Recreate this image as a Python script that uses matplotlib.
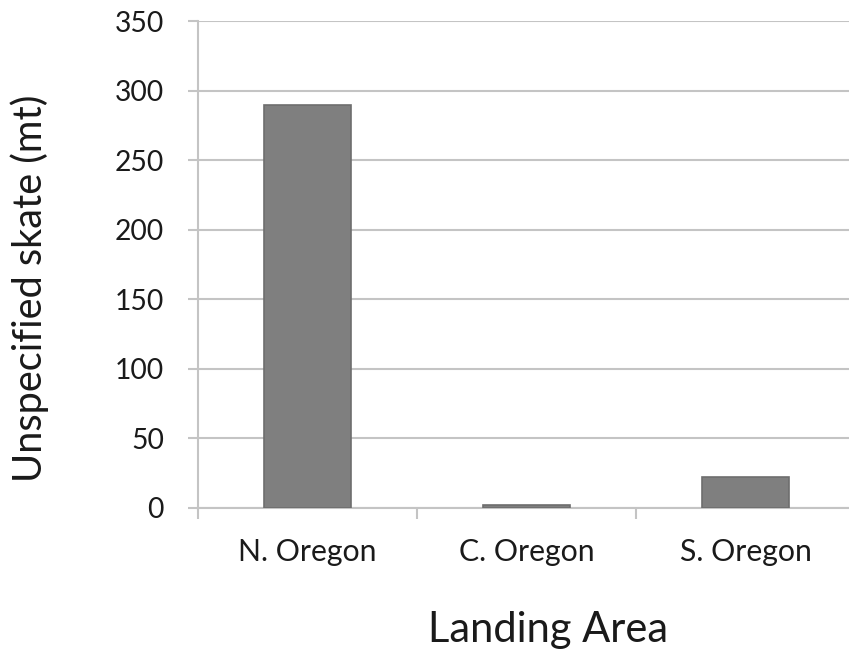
import matplotlib
matplotlib.use("Agg")
import matplotlib.pyplot as plt

categories = ["N. Oregon", "C. Oregon", "S. Oregon"]
values = [290, 2, 22]
yticks = [0, 50, 100, 150, 200, 250, 300, 350]

plt.rcParams['font.family'] = ['Lato', 'DejaVu Sans']

fig = plt.figure(figsize=(8.49, 6.54), dpi=100)
ax = fig.add_axes([198/849, 146.5/654, 657/849, (507.5-21.4)/654])

x = list(range(len(categories)))
ax.bar(x, values, width=0.4, color="#7f7f7f", edgecolor="#6e6e6e", linewidth=1.2, zorder=3)

ax.set_xlim(-0.5, len(categories) - 0.5)
ax.set_ylim(0, 350)
ax.set_yticks(yticks)
ax.set_yticklabels([str(t) for t in yticks], fontsize=20.3, color="#1a1a1a")
ax.yaxis.grid(True, color="#c4c4c4", linewidth=1.5, zorder=0)
ax.set_axisbelow(True)

ax.set_xticks(x)
ax.set_xticklabels(categories, fontsize=21.8, color="#1a1a1a")
ax.tick_params(axis='x', length=0, pad=22)
ax.set_xticks([-0.5, 0.5, 1.5, 2.5], minor=True)
ax.tick_params(axis='x', which='minor', length=8, width=1.5, color="#c4c4c4")
ax.tick_params(axis='y', length=7.5, width=1.5, color="#c4c4c4", pad=17)

for s in ["top", "right"]:
    ax.spines[s].set_visible(False)
ax.spines["left"].set_color("#c4c4c4")
ax.spines["left"].set_linewidth(1.5)
ax.spines["bottom"].set_color("#c4c4c4")
ax.spines["bottom"].set_linewidth(1.5)

fig.text(30/849, (654-288)/654, "Unspecified skate (mt)", rotation=90,
         ha="center", va="center", fontsize=28.6, color="#1a1a1a")
fig.text(548.5/849, (654-642)/654, "Landing Area", ha="center", va="baseline",
         fontsize=30, color="#1a1a1a")

fig.savefig("out.png", dpi=100)
